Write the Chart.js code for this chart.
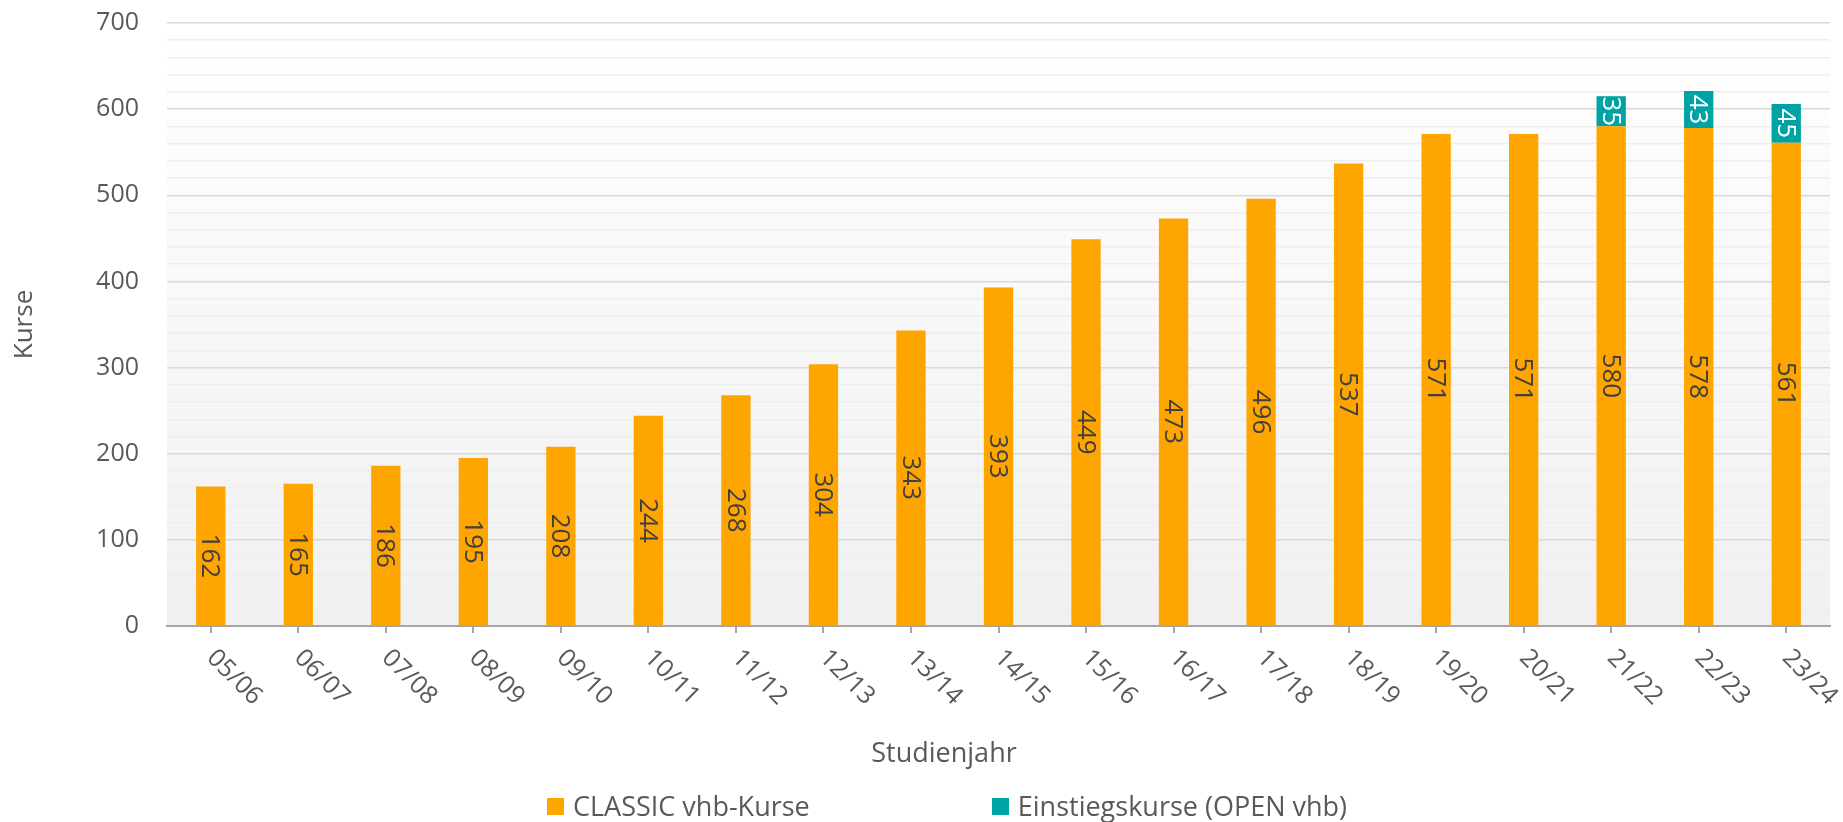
<!DOCTYPE html>
<html>
<head>
<meta charset="utf-8">
<script src="https://cdn.jsdelivr.net/npm/chart.js@4"></script>
<style>
  html, body { margin: 0; padding: 0; background: #fff; }
  #wrap { position: relative; width: 1843px; height: 822px; font-family: "Open Sans", sans-serif; color: #595959; }
  #chart { position: absolute; left: 0; top: 0; }
  #xTitle { position: absolute; left: 794px; width: 300px; top: 736px; text-align: center; font-size: 27px; line-height: 32px; }
  #legend { position: absolute; left: 547px; top: 790px; display: flex; gap: 182px; font-size: 27px; line-height: 32px; }
  .item { display: flex; align-items: center; }
  .box { width: 17px; height: 17px; margin-right: 9px; }
</style>
</head>
<body>
<div id="wrap">
  <canvas id="chart" width="1843" height="822"></canvas>
  <div id="xTitle">Studienjahr</div>
  <div id="legend"></div>
</div>
<script>
// Studienjahre
const years = ["05/06", "06/07", "07/08", "08/09", "09/10", "10/11", "11/12", "12/13", "13/14", "14/15",
               "15/16", "16/17", "17/18", "18/19", "19/20", "20/21", "21/22", "22/23", "23/24"];
const classicKurse = [162, 165, 186, 195, 208, 244, 268, 304, 343, 393, 449, 473, 496, 537, 571, 571, 580, 578, 561];
const openKurse = [null, null, null, null, null, null, null, null, null, null,
                   null, null, null, null, null, null, 35, 43, 45];
const seriesNames = ["CLASSIC vhb-Kurse", "Einstiegskurse (OPEN vhb)"];
const seriesColors = ["#FFA500", "#00A3A3"];
const labelColors = ["#404040", "#ffffff"];

const FONT = "'Open Sans', sans-serif";

// grauer Verlauf im Plotbereich
const bgPlugin = {
    id: "bg",
    beforeDraw(chart) {
        const { ctx, chartArea: a } = chart;
        const g = ctx.createLinearGradient(0, a.top, 0, a.bottom);
        g.addColorStop(0, "#ffffff");
        g.addColorStop(1, "#f0f0f0");
        ctx.save();
        ctx.fillStyle = g;
        ctx.fillRect(a.left, a.top, a.right - a.left, a.bottom - a.top);
        ctx.restore();
    }
};

// Werte senkrecht in die Balken schreiben
const valuePlugin = {
    id: "values",
    afterDatasetsDraw(chart) {
        const ctx = chart.ctx;
        chart.data.datasets.forEach((ds, i) => {
            chart.getDatasetMeta(i).data.forEach((bar, j) => {
                const v = ds.data[j];
                if (v == null) return;
                ctx.save();
                ctx.translate(bar.x, (bar.y + bar.base) / 2);
                ctx.rotate(Math.PI / 2);
                ctx.font = "26px " + FONT;
                ctx.fillStyle = labelColors[i];
                ctx.textAlign = "center";
                ctx.textBaseline = "middle";
                ctx.fillText(v, 0, 1);
                ctx.restore();
            });
        });
    }
};

// x-Beschriftung schraeg nach rechts unten
const xLabelPlugin = {
    id: "xlabels",
    afterDraw(chart) {
        const ctx = chart.ctx;
        const xs = chart.scales.x;
        years.forEach((y, i) => {
            ctx.save();
            ctx.translate(xs.getPixelForValue(i), chart.chartArea.bottom + 28);
            ctx.rotate(Math.PI / 4);
            ctx.font = "25px " + FONT;
            ctx.fillStyle = "#595959";
            ctx.textAlign = "left";
            ctx.textBaseline = "middle";
            ctx.fillText(y, 0, 0);
            ctx.restore();
        });
    }
};

new Chart(document.getElementById("chart"), {
    type: "bar",
    data: {
        labels: years,
        datasets: [
            { label: seriesNames[0], data: classicKurse, backgroundColor: seriesColors[0], barPercentage: 0.335, categoryPercentage: 1 },
            { label: seriesNames[1], data: openKurse, backgroundColor: seriesColors[1], barPercentage: 0.335, categoryPercentage: 1 }
        ]
    },
    options: {
        responsive: false,
        animation: false,
        layout: { padding: { top: 23, right: 13, left: 0, bottom: 0 } },
        plugins: {
            legend: { display: false },
            tooltip: { enabled: false }
        },
        scales: {
            x: {
                stacked: true,
                afterFit: s => { s.height = 196; },
                ticks: { display: false },
                grid: { offset: false, drawOnChartArea: false, drawTicks: true, tickLength: 7, color: "#a6a6a6", lineWidth: 2 },
                border: { color: "#a6a6a6", width: 2 }
            },
            y: {
                stacked: true,
                min: 0,
                max: 700,
                // feste Breite, und ticks.padding nicht nach oben/unten wirken lassen
                afterFit: s => { s.width = 167; s.paddingTop = 15; s.paddingBottom = 15; },
                ticks: {
                    stepSize: 20,
                    autoSkip: false,
                    padding: 28,
                    color: "#595959",
                    font: { family: FONT, size: 25 },
                    callback: v => (v % 100 === 0 ? v : "")
                },
                grid: {
                    drawTicks: false,
                    lineWidth: 1.5,
                    color: c => (c.tick && c.tick.value % 100 === 0 ? "#d9d9d9" : "#eeeeee")
                },
                border: { display: false },
                title: {
                    display: true,
                    text: "Kurse",
                    color: "#595959",
                    font: { family: FONT, size: 26 },
                    padding: { top: 9, bottom: 0 }
                }
            }
        }
    },
    plugins: [bgPlugin, valuePlugin, xLabelPlugin]
});

// Legende
const legend = document.getElementById("legend");
seriesNames.forEach((name, i) => {
    const item = document.createElement("div");
    item.className = "item";
    item.innerHTML = `<span class="box" style="background:${seriesColors[i]}"></span>${name}`;
    legend.appendChild(item);
});
</script>
</body>
</html>
